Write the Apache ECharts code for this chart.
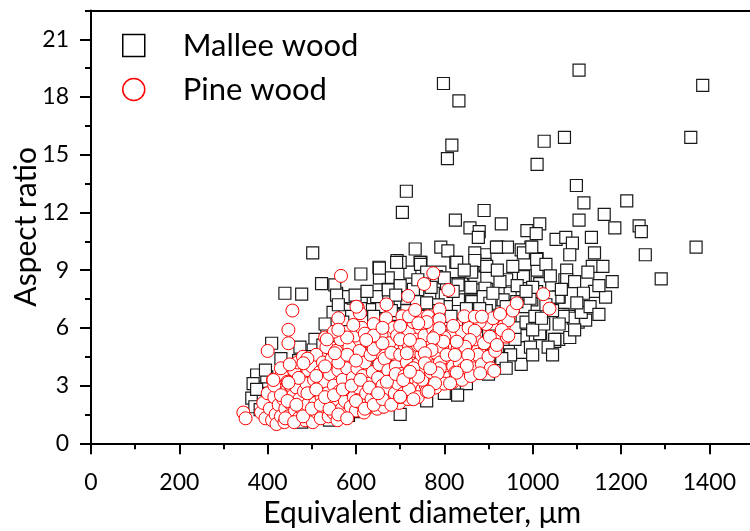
<!DOCTYPE html>
<html>
<head>
<meta charset="utf-8">
<script src="https://cdn.jsdelivr.net/npm/echarts@6/dist/echarts.min.js"></script>
<style>
  html, body { margin: 0; padding: 0; background: #fff; }
  #chart { width: 750px; height: 531px; }
</style>
</head>
<body>
<div id="chart"></div>
<script>
// Particle size vs. shape: equivalent diameter (μm) against aspect ratio
const seriesNames = ['Mallee wood', 'Pine wood'];
const xTitle = 'Equivalent diameter, μm';
const yTitle = 'Aspect ratio';

// Mallee wood particles [equivalent diameter, aspect ratio]
const malleeWood = [
  [1105,19.4],[798,18.7],[833,17.8],[1385,18.6],[817,15.5],[807,14.8],[1026,15.7],[1072,15.9],[1358,15.9],[1010,14.5],
  [714,13.1],[705,12.0],[1099,13.4],[1116,12.5],[1213,12.6],[1162,11.9],[1186,11.2],[1241,11.3],[1246,11.0],[1105,11.6],
  [1370,10.2],[1255,9.8],[890,12.1],[929,11.4],[825,11.6],[858,11.2],[879,11.0],[877,10.7],[987,11.05],[1016,11.4],
  [1008,10.9],[1053,10.6],[1075,10.7],[1090,10.4],[1133,10.7],[734,10.1],[792,10.2],[808,10.0],[921,10.2],[943,10.2],
  [996,10.2],[974,10.05],[1140,9.9],[1084,9.8],[693,9.5],[747,9.4],[826,9.4],[892,9.8],[1010,9.6],[1291,8.55],
  [1077,9.0],[1073,8.5],[1135,9.2],[1159,9.2],[1010,9.0],[1140,7.9],[1165,7.6],[1060,7.6],[1069,6.7],[1082,6.6],
  [1103,6.3],[1120,6.4],[1092,6.5],[1018,5.7],[1059,5.4],[1084,5.5],[1050,5.3],[975,5.6],[974,4.1],[945,5.1],
  [745,9.4],[722,8.9],[790,8.9],[828,9.4],[700,9.4],[869,9.9],[918,10.2],[979,9.9],[998,10.2],[1009,9.56],
  [866,8.8],[892,9.3],[869,8.6],[941,8.5],[983,8.7],[1016,8.3],[1058,7.6],[1077,8.5],[832,8.3],[813,8.0],
  [862,7.4],[896,8.0],[915,7.45],[949,7.8],[998,7.45],[1039,7.6],[843,6.6],[828,6.15],[862,6.15],[896,6.4],
  [926,6.85],[949,6.3],[979,5.6],[1016,5.7],[1050,5.4],[1069,6.6],[983,7.1],[941,5.4],[888,5.2],[873,5.7],
  [911,5.8],[711,7.1],[745,7.3],[730,8.0],[775,7.8],[805,7.1],[832,7.45],[798,6.25],[832,6.85],[813,5.0],
  [858,5.2],[790,4.7],[888,3.65],[858,3.65],[737,2.95],
  [502,9.9],[611,8.8],[652,9.15],[692,9.4],[673,8.6],[653,8.6],[673,8.0],[522,8.3],[439,7.8],[477,7.75],
  [556,7.8],[579,7.6],[594,7.55],[617,7.3],[639,7.45],[632,6.95],[658,7.1],[684,6.7],[647,6.4],[624,5.9],
  [654,5.9],[507,5.4],[534,5.8],[568,5.2],[409,5.2],[473,5.0],[503,4.85],[496,4.5],[375,3.55],[398,3.45],
  [435,3.8],[367,3.1],[364,2.35],[371,1.9],[383,1.75],[477,1.1],[583,1.45],[594,1.65],
  [746,9.3],[653,9.1],[869,9.5],[896,9.2],[760,8.9],[782,8.66],[805,8.3],[831,8.23],[862,8.9],[892,8.06],
  [926,8.4],[979,8.66],[1009,7.88],[552,8.23],[575,7.62],[598,7.7],[556,7.7],[647,7.62],[673,7.97],[700,7.36],
  [715,7.54],[737,7.36],[767,7.62],[786,7.19],[862,7.36],[888,7.62],[903,7.28],[933,7.45],[964,7.36],[994,7.54],
  [420,2.2],[445,1.6],[460,2.9],[480,2.4],[500,3.3],[515,1.9],[530,2.7],[540,4.1],[555,3.4],[470,4.3],
  [455,3.6],[500,1.5],[520,4.6],[545,2.2],[430,4.4],[410,1.4],[390,2.6],[440,2.8],[485,3.9],[510,3.8],
  [525,5.1],[560,5.6],[575,4.8],[590,3.9],[600,2.6],[615,4.4],[620,3.1],[635,5.2],[645,2.1],[650,4.0],
  [660,6.2],[670,3.3],[680,5.5],[690,4.6],[700,2.5],[710,6.4],[715,3.9],[725,5.8],[735,4.9],[740,2.9],
  [750,6.6],[760,3.6],[765,5.3],[775,4.2],[780,6.9],[790,3.2],[800,5.8],[805,4.4],[815,6.6],[820,3.8],
  [835,5.6],[840,4.6],[850,7.0],[855,4.0],[870,6.1],[880,4.8],[895,6.9],[900,4.3],[910,6.2],[920,5.0],
  [935,6.6],[950,4.6],[960,6.0],[985,6.3],[995,5.0],[1005,6.6],[1025,6.2],[1035,5.0],[1045,6.9],[605,6.0],
  [590,6.6],[570,6.3],[548,6.8],[530,6.2],[560,7.2],[610,7.0],[625,7.9],[700,8.2],[690,7.7],[740,8.5],
  [770,8.1],[800,8.6],[845,9.0],[860,8.1],[920,9.0],[955,9.2],[965,8.2],[1030,9.3],[1040,8.7],[1095,8.4],
  [1115,7.8],[1125,8.9],[1000,8.1],[940,7.1],[910,7.8],[880,7.0],[820,7.9],[760,7.3],[715,6.9],[680,6.9],
  [640,6.6],[600,5.2],[580,5.8],[655,5.3],[695,6.0],[720,4.4],[745,5.4],[770,5.0],[790,5.6],[830,5.3],
  [865,5.0],[905,5.3],[930,4.4],[960,5.4],[1000,5.9],[1020,6.5],[1060,6.2],[1095,5.9],[1110,6.8],[1130,7.1],
  [1150,6.7],[1150,8.2],[1180,8.4],[1065,8.0],[985,7.9],[1030,7.2],[1100,7.3],[1045,4.6],[1000,4.6],[640,3.5],
  [560,2.6],[680,2.8],[720,3.2],[760,2.2],[800,2.6],[850,3.1],[830,2.5],[900,3.6],[940,3.9],[610,1.7],
  [650,1.9],[700,1.5],[540,1.2],[560,1.8],[460,1.3],[480,1.7],[400,1.8],[375,2.8],[395,3.8],[420,3.3]
];

// Pine wood particles [equivalent diameter, aspect ratio]
const pineWood = [
  [345,1.6],[350,1.3],[385,1.6],[390,2.1],[395,1.3],[400,2.6],[405,1.8],[410,1.2],[412,3.3],[415,2.4],
  [418,1.5],[420,1.0],[425,2.0],[428,2.9],[430,1.4],[432,3.6],[435,2.3],[438,1.1],[440,1.8],[442,2.7],
  [445,3.2],[447,1.4],[450,2.1],[452,3.0],[455,1.2],[458,2.5],[460,3.8],[462,1.7],[465,2.9],[468,4.2],
  [470,1.3],[472,2.3],[475,3.4],[478,1.8],[480,4.5],[482,2.7],[485,1.2],[488,3.1],[490,2.0],[492,3.8],
  [495,1.5],[497,2.6],[500,4.0],[502,1.1],[505,3.3],[508,2.1],[510,4.6],[512,1.6],[515,2.9],[518,3.7],
  [520,1.3],[522,2.4],[525,4.2],[528,1.9],[530,3.2],[533,5.0],[535,2.6],[538,1.4],[540,3.6],[542,2.1],
  [545,4.4],[548,1.6],[550,3.0],[553,2.3],[555,4.8],[558,1.2],[560,3.8],[562,2.7],[565,5.4],[568,1.8],
  [570,3.3],[573,4.3],[575,2.2],[578,1.5],[580,3.9],[583,2.8],[585,5.0],[588,1.9],[590,4.5],[593,3.4],
  [595,2.4],[598,5.6],[600,1.7],[603,3.9],[605,2.9],[608,4.8],[610,2.1],[613,6.0],[615,3.5],[618,1.6],
  [620,4.2],[623,2.6],[625,5.3],[628,3.1],[630,1.9],[633,4.6],[635,2.3],[638,3.7],[640,6.2],[642,2.8],
  [645,5.0],[648,1.8],[650,3.4],[653,4.1],[655,2.5],[658,5.6],[660,3.0],[663,1.9],[665,4.4],[668,6.5],
  [670,2.7],[673,3.8],[675,5.2],[678,2.2],[680,4.7],[683,3.3],[685,6.0],[688,2.6],[690,4.0],[693,5.6],
  [695,3.1],[698,2.1],[700,4.6],[703,3.6],[705,6.6],[708,2.6],[710,5.1],[713,3.2],[715,4.2],[718,2.3],
  [720,5.8],[723,3.8],[725,2.9],[728,4.8],[730,6.3],[733,3.4],[735,2.6],[738,5.4],[740,4.1],[743,3.1],
  [745,6.0],[748,4.6],[750,2.8],[753,3.7],[755,5.6],[758,3.0],[760,4.4],[763,6.6],[765,3.4],[768,5.0],
  [770,2.9],[773,4.0],[775,5.9],[778,3.6],[780,4.7],[783,3.2],[785,6.4],[790,4.2],[793,3.4],[795,5.0],
  [800,3.8],[805,4.6],[810,3.4],[815,5.6],[820,4.0],[825,3.7],[830,4.9],[835,4.2],[840,5.8],[845,3.9],
  [850,5.1],[855,6.0],[860,4.4],[865,3.9],[870,5.4],[875,4.6],[885,4.1],[890,5.2],[895,6.2],[900,4.5],
  [905,3.9],[915,4.8],[925,5.6],[935,6.1],[945,6.4],[955,6.9],
  [440,1.3],[460,1.1],[480,1.4],[500,1.8],[520,2.0],[540,1.8],[560,1.5],[580,1.3],[600,2.2],[620,1.8],
  [640,2.0],[660,2.3],[680,2.0],[700,2.4],[720,2.8],[740,2.4],[760,2.7],[780,2.9],[800,3.1],[820,3.2],
  [840,3.3],[860,3.5],[415,3.0],[430,2.5],[445,2.2],[465,2.0],[490,2.6],[510,2.8],[530,2.4],[550,2.5],
  [570,2.8],[590,3.0],[610,3.3],[630,2.9],[650,2.6],[670,3.2],[690,3.6],[710,3.5],[730,3.9],[750,3.3],
  [770,3.7],[790,3.9],[510,3.5],[530,4.0],[560,4.2],[580,4.6],[600,4.3],[640,4.9],[660,5.2],[700,5.4],
  [720,5.0],[740,5.1],[430,3.9],[450,4.1],[470,3.4],[490,4.4],[530,5.5],[550,5.8],[580,5.5],[620,5.7],
  [640,5.6],[660,6.0],[700,6.1],[720,6.6],[760,6.3],[780,5.6],[800,5.5],[820,6.1],[845,6.6],[880,6.3],
  [910,6.5],
  [566,8.7],[456,6.9],[447,5.9],[447,5.2],[400,4.8],[534,5.4],[560,6.5],[560,5.9],[594,6.15],[604,7.05],
  [609,6.76],[669,7.22],[623,5.37],[552,4.68],[481,4.16],[447,3.15],[413,3.29],[775,8.84],[754,8.28],[809,7.97],
  [718,7.66],[734,6.93],[741,6.24],[789,6.96],[789,6.44],[789,5.98],[869,6.58],[885,6.58],[926,6.72],[964,7.28],
  [1024,7.75],[1038,7.0],[903,5.54],[919,5.11],[941,5.54],[930,5.89],[869,5.85],[858,5.37],[847,5.02],[828,5.28],
  [798,5.28],[775,5.46],[771,4.85],[745,5.11],[722,5.37],[715,4.68],[756,4.68],[824,4.59],[854,4.59],[851,4.02],
  [881,3.64],[913,3.76],[828,3.67],[785,3.64],[813,3.12],[779,3.12],[764,2.68],[730,2.29],[700,2.42],[741,3.46],
  [707,3.29],[722,3.72],[756,4.16],[768,3.9],[945,5.6],[601,7.1]
];

// Axis ranges and tick steps
const xRange = [0, 1500];
const yRange = [0, 22.5];
const xMajorStep = 200, xMinorStep = 100;
const yMajorStep = 3, yMinorStep = 1.5;

const FONT = 'Lato';
const chart = echarts.init(document.getElementById('chart'), null, { renderer: 'canvas' });

const axisLine = { show: true, lineStyle: { color: '#000', width: 2 } };
const plainNumber = v => String(v);

chart.setOption({
  animation: false,
  backgroundColor: '#fff',
  grid: { left: 91, top: 10.4, width: 662.5, height: 432.9, containLabel: false, outerBoundsMode: 'none' },
  legend: {
    orient: 'vertical',
    left: 117, top: 25,
    itemWidth: 22, itemHeight: 22, itemGap: 13,
    textStyle: { fontFamily: FONT, fontSize: 31, color: '#000', padding: [0, 0, 0, 33] },
    data: [
      { name: seriesNames[0], icon: 'rect',
        itemStyle: { color: '#fff', borderColor: '#000', borderWidth: 1.5 } },
      { name: seriesNames[1], icon: 'circle',
        itemStyle: { color: '#fff', borderColor: '#ff0000', borderWidth: 1.5 } }
    ]
  },
  xAxis: [
    {
      type: 'value', position: 'bottom', min: xRange[0], max: xRange[1], interval: xMajorStep,
      name: xTitle, nameLocation: 'middle', nameGap: 55, nameMoveOverlap: false,
      nameTextStyle: { fontFamily: FONT, fontSize: 30, color: '#000' },
      axisLine: axisLine,
      axisTick: { show: true, inside: false, length: 11, lineStyle: { color: '#000', width: 2 } },
      axisLabel: { fontFamily: FONT, fontSize: 23, color: '#000', margin: 28, showMaxLabel: false, formatter: plainNumber },
      splitLine: { show: false }
    },
    {
      type: 'value', position: 'bottom', min: xRange[0], max: xRange[1], interval: xMinorStep,
      axisLine: { show: false },
      axisTick: { show: true, inside: false, length: 6, lineStyle: { color: '#000', width: 2 } },
      axisLabel: { show: false }, splitLine: { show: false }
    },
    {
      type: 'value', position: 'top', min: xRange[0], max: xRange[1], interval: xMajorStep,
      axisLine: axisLine, axisTick: { show: false }, axisLabel: { show: false }, splitLine: { show: false }
    }
  ],
  yAxis: [
    {
      type: 'value', position: 'left', min: yRange[0], max: yRange[1], interval: yMajorStep,
      name: yTitle, nameLocation: 'middle', nameGap: 50, nameRotate: 90, nameMoveOverlap: false,
      nameTextStyle: { fontFamily: FONT, fontSize: 30, color: '#000' },
      axisLine: axisLine,
      axisTick: { show: true, inside: false, length: 11, lineStyle: { color: '#000', width: 2 } },
      axisLabel: { fontFamily: FONT, fontSize: 23, color: '#000', margin: 22, showMaxLabel: false, formatter: plainNumber },
      splitLine: { show: false }
    },
    {
      type: 'value', position: 'left', min: yRange[0], max: yRange[1], interval: yMinorStep,
      axisLine: { show: false },
      axisTick: { show: true, inside: false, length: 6, lineStyle: { color: '#000', width: 2 } },
      axisLabel: { show: false }, splitLine: { show: false }
    }
  ],
  series: [
    {
      name: seriesNames[0], type: 'scatter', xAxisIndex: 0, yAxisIndex: 0,
      symbol: 'rect', symbolSize: 12,
      itemStyle: { color: '#fff', borderColor: '#1a1a1a', borderWidth: 1.2, opacity: 1 },
      emphasis: { disabled: true },
      data: malleeWood
    },
    {
      name: seriesNames[1], type: 'scatter', xAxisIndex: 0, yAxisIndex: 0,
      symbol: 'circle', symbolSize: 13,
      itemStyle: { color: '#fff', borderColor: '#ff0000', borderWidth: 1, opacity: 1 },
      emphasis: { disabled: true },
      data: pineWood
    }
  ]
});
</script>
</body>
</html>
